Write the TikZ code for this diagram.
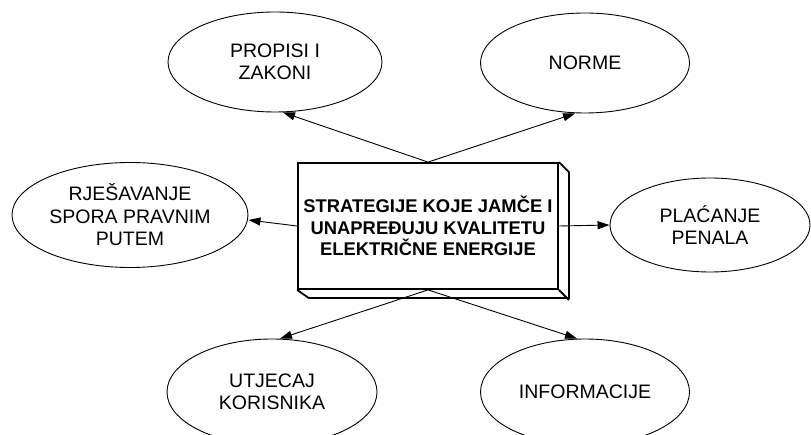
\documentclass[tikz,border=0pt]{standalone}
\usepackage{fontspec}
\setmainfont{Liberation Sans}
\usetikzlibrary{shapes.geometric,arrows.meta}

\begin{document}
\begin{tikzpicture}
[
  x=1pt, y=-1pt,
  oval/.style={ellipse, draw, line width=0.9pt, inner sep=0pt, align=center,
    font=\fontsize{19.5}{22.5}\selectfont},
  arr/.style={-{Triangle[length=12pt,width=8pt]}, line width=0.9pt}
]
\clip (0,0) rectangle (811,435);

\node[oval, minimum width=214pt, minimum height=100pt] (propisi) at (275,62) {PROPISI I\\ZAKONI};
\node[oval, minimum width=209pt, minimum height=100pt] (norme) at (585,63) {NORME};
\node[oval, minimum width=236pt, minimum height=105pt] (rjesavanje) at (130,215) {RJEŠAVANJE\\SPORA PRAVNIM\\PUTEM};
\node[oval, minimum width=200pt, minimum height=94pt] (placanje) at (710,225) {PLAĆANJE\\PENALA};
\node[oval, minimum width=210pt, minimum height=106pt] (utjecaj) at (272,392) {UTJECAJ\\KORISNIKA};
\node[oval, minimum width=209pt, minimum height=106pt] (informacije) at (585,392) {INFORMACIJE};

\node[draw, line width=1.8pt, minimum width=260pt, minimum height=126pt, inner sep=0pt,
  align=center, font=\bfseries\fontsize{18.4}{21.7}\selectfont]
  (strategije) at (428,226) {STRATEGIJE KOJE JAMČE I\\UNAPREĐUJU KVALITETU\\ELEKTRIČNE ENERGIJE};
\draw[line width=1.8pt] (strategije.north east) -- ++(10,10) -- ++(0,126) -- ++(-260,0) -- (strategije.south west);
\draw[line width=1.8pt] (strategije.south east) -- ++(10,10);

\path[arr]
(strategije.north) edge ([xshift=8pt]propisi.south)
(strategije.north) edge ([xshift=-10pt]norme.south)
(strategije.west) edge ([yshift=-5pt]rjesavanje.east)
(strategije.east) edge (placanje.west)
(strategije.south) edge ([xshift=8pt]utjecaj.north)
(strategije.south) edge ([xshift=-8pt]informacije.north);

\end{tikzpicture}
\end{document}
